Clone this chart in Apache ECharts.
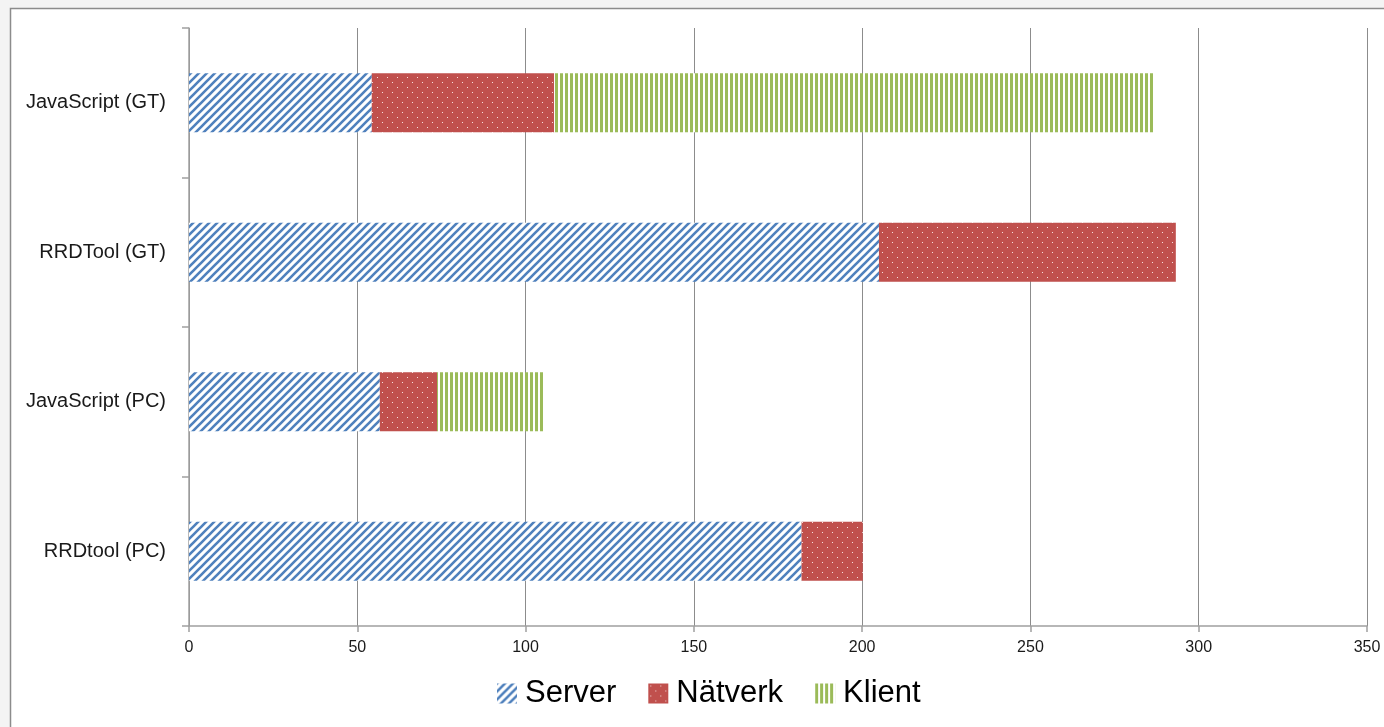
<!DOCTYPE html>
<html>
<head>
<meta charset="utf-8">
<script src="https://cdn.jsdelivr.net/npm/echarts@6/dist/echarts.min.js"></script>
<style>
html,body{margin:0;padding:0;background:#f4f4f4;}
#chart{width:1384px;height:727px;}
</style>
</head>
<body>
<div id="chart"></div>
<script>
const categories = ['RRDtool (PC)', 'JavaScript (PC)', 'RRDTool (GT)', 'JavaScript (GT)'];
const seriesNames = ['Server', 'Nätverk', 'Klient'];
const serverValues = [182, 56.7, 205, 54.3];
const natverkValues = [18.2, 17, 88.2, 54.2];
const klientValues = [0, 32, 0, 178.5];
const xTicks = [0, 50, 100, 150, 200, 250, 300, 350];

function makeCanvas(w, h, draw) {
  const c = document.createElement('canvas');
  c.width = w; c.height = h;
  draw(c.getContext('2d'));
  return c;
}
const serverPattern = makeCanvas(8, 8, ctx => {
  ctx.fillStyle = '#ffffff'; ctx.fillRect(0, 0, 8, 8);
  ctx.strokeStyle = '#4f81bd'; ctx.lineWidth = 2.6;
  ctx.beginPath();
  ctx.moveTo(-2, 2); ctx.lineTo(2, -2);
  ctx.moveTo(0, 8); ctx.lineTo(8, 0);
  ctx.moveTo(6, 10); ctx.lineTo(10, 6);
  ctx.stroke();
});
const natPattern = makeCanvas(10, 10, ctx => {
  ctx.fillStyle = '#c0504d'; ctx.fillRect(0, 0, 10, 10);
  ctx.fillStyle = '#f6dede';
  ctx.fillRect(2, 2, 1, 1);
  ctx.fillRect(7, 7, 1, 1);
});
const klientPattern = makeCanvas(5, 4, ctx => {
  ctx.fillStyle = '#ffffff'; ctx.fillRect(0, 0, 5, 4);
  ctx.fillStyle = '#9bbb59'; ctx.fillRect(0, 0, 3, 4);
});
const patterns = [serverPattern, natPattern, klientPattern];
const values = [serverValues, natverkValues, klientValues];

const chart = echarts.init(document.getElementById('chart'));
const option = {
  animation: false,
  backgroundColor: 'transparent',
  graphic: [{
    type: 'rect', z: -10, silent: true,
    shape: { x: 10.5, y: 8.5, width: 1400, height: 760 },
    style: { fill: '#ffffff', stroke: '#8c8c8c', lineWidth: 1.5 }
  }],
  grid: { left: 189, right: 17, top: 28, bottom: 101, containLabel: false },
  legend: {
    bottom: 13, left: 492,
    itemWidth: 20, itemHeight: 20, itemGap: 32,
    icon: 'rect',
    textStyle: { fontFamily: 'Liberation Sans', fontSize: 31, color: '#000', padding: [0, 0, 0, 3] },
    data: seriesNames
  },
  xAxis: {
    type: 'value', min: 0, max: 350, interval: 50,
    axisLine: { show: true, lineStyle: { color: '#a0a0a0', width: 1.5 } },
    axisTick: { show: true, length: 6, lineStyle: { color: '#a0a0a0', width: 1.5 } },
    splitLine: { show: true, lineStyle: { color: '#8c8c8c', width: 1 } },
    axisLabel: {
      margin: 14, fontFamily: 'Liberation Sans', fontSize: 16, color: '#1a1a1a',
      formatter: v => xTicks.includes(v) ? String(v) : ''
    }
  },
  yAxis: {
    type: 'category', data: categories,
    axisLine: { show: true, lineStyle: { color: '#a0a0a0', width: 1.5 } },
    axisTick: { show: true, length: 7, lineStyle: { color: '#a0a0a0', width: 1.5 } },
    axisLabel: { margin: 23, fontFamily: 'Liberation Sans', fontSize: 20, color: '#1a1a1a' }
  },
  series: seriesNames.map((name, i) => ({
    name: name, type: 'bar', stack: 'total', barWidth: 59,
    itemStyle: { color: { image: patterns[i], repeat: 'repeat' } },
    data: values[i]
  }))
};
chart.setOption(option);
</script>
</body>
</html>
